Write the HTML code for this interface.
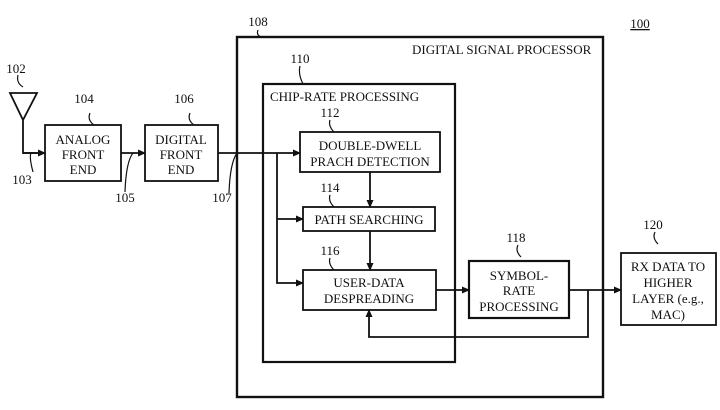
<!DOCTYPE html>
<html><head><style>body{margin:0;background:#fff}</style></head><body>
<svg width="720" height="405" xmlns="http://www.w3.org/2000/svg" font-family="Liberation Serif, serif" font-size="13" fill="#111">
<defs><marker id="a" markerWidth="8" markerHeight="8" refX="7" refY="4" orient="auto" markerUnits="userSpaceOnUse"><path d="M0,0.5 L8,4 L0,7.5z" fill="#111"/></marker></defs>
<g stroke="#111" fill="none" stroke-width="1.8">
<rect x="237" y="37" width="366" height="360" stroke-width="2.4"/>
<rect x="263" y="84" width="192" height="278" stroke-width="2.2"/>
<rect x="45" y="125" width="76" height="56"/>
<rect x="145" y="125" width="73" height="56"/>
<rect x="300" y="132" width="140" height="40"/>
<rect x="303" y="207" width="132" height="24"/>
<rect x="303" y="270" width="133" height="40"/>
<rect x="469" y="261" width="100" height="57" stroke-width="2.2"/>
<rect x="621" y="253" width="95" height="72"/>
<path d="M10,93 L37,93 L23,120 Z M23,120 L23,153 L45,153" />
<path d="M23,153 L45,153" marker-end="url(#a)"/>
<path d="M121,153 L145,153" marker-end="url(#a)"/>
<path d="M218,153 L300,153" marker-end="url(#a)"/>
<path d="M277,153 L277,283 L303,283" marker-end="url(#a)"/>
<path d="M277,219 L303,219" marker-end="url(#a)"/>
<path d="M370,172 L370,207" marker-end="url(#a)"/>
<path d="M370,231 L370,270" marker-end="url(#a)"/>
<path d="M436,290 L469,290" marker-end="url(#a)"/>
<path d="M569,290 L621,290" marker-end="url(#a)"/>
<path d="M588,290 L588,337 L369,337 L369,310" marker-end="url(#a)"/>
<path stroke-width="1.2" d="M18,75 q-2,8 5,12 M90,113 q-3,7 4,12 M190,113 q-3,7 4,12 M258,30 q-2,5 3,7 M300,66 q-2,8 3,18 M330,120 q-2,6 4,12 M330,195 q-2,6 4,12 M330,258 q-2,6 4,12 M518,245 q-3,6 3,12 M655,232 q-3,6 3,12 M33,172 q-4,-15 -2,-19 M125,192 q1,-30 8,-39 M229,193 q1,-30 8,-40"/>
</g>
<g text-anchor="middle">
<text x="16" y="73">102</text><text x="84" y="103">104</text><text x="184" y="103">106</text>
<text x="22" y="184">103</text><text x="125" y="202">105</text><text x="222" y="202">107</text>
<text x="258" y="26">108</text><text x="300" y="63">110</text><text x="330" y="117">112</text>
<text x="330" y="192">114</text><text x="330" y="255">116</text><text x="516" y="242">118</text>
<text x="653" y="229">120</text>
<text x="640" y="28" text-decoration="underline">100</text>
<text x="83" y="144">ANALOG</text><text x="83" y="159">FRONT</text><text x="83" y="174">END</text>
<text x="181" y="144">DIGITAL</text><text x="181" y="159">FRONT</text><text x="181" y="174">END</text>
<text x="370" y="150">DOUBLE-DWELL</text><text x="370" y="166">PRACH DETECTION</text>
<text x="369" y="224">PATH SEARCHING</text>
<text x="369" y="287">USER-DATA</text><text x="369" y="303">DESPREADING</text>
<text x="519" y="280">SYMBOL-</text><text x="519" y="295">RATE</text><text x="519" y="311">PROCESSING</text>
<text x="668" y="271">RX DATA TO</text><text x="668" y="287">HIGHER</text><text x="668" y="303">LAYER (e.g.,</text><text x="668" y="319">MAC)</text>
</g>
<text x="412" y="54">DIGITAL SIGNAL PROCESSOR</text>
<text x="270" y="101">CHIP-RATE PROCESSING</text>
</svg>
</body></html>
